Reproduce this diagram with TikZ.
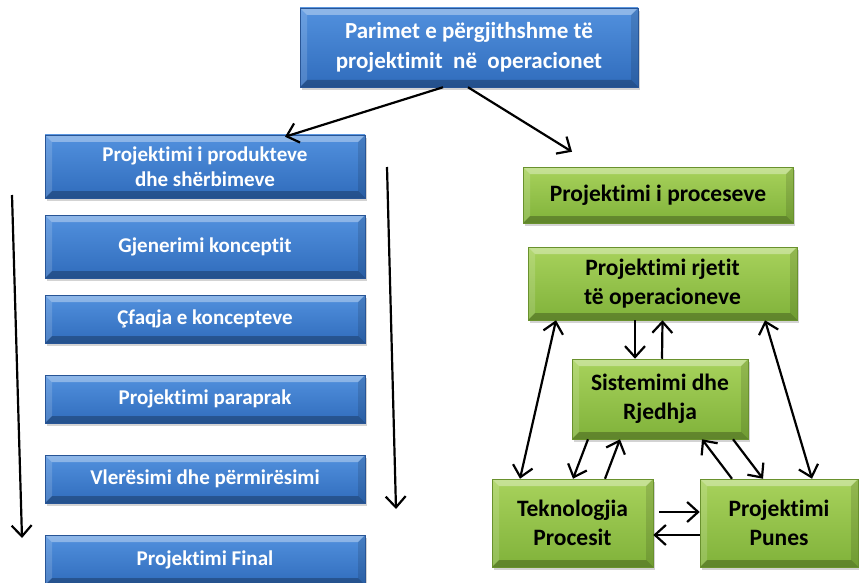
\documentclass[tikz,border=0pt]{standalone}
\usepackage{fontspec}
\setmainfont{Carlito}[Ligatures=NoCommon]
\usetikzlibrary{arrows.meta,shadows,calc}
\definecolor{btop}{RGB}{82,145,222}
\definecolor{bbot}{RGB}{48,108,188}
\definecolor{bbrd}{RGB}{40,85,150}
\definecolor{gtop}{RGB}{168,210,92}
\definecolor{gbot}{RGB}{128,178,58}
\definecolor{gbrd}{RGB}{105,145,45}
\tikzset{
  bevel/.style={path picture={
    \fill[white,opacity=0.35] (path picture bounding box.north west) -- (path picture bounding box.north east)
      -- ([xshift=-7pt,yshift=-7pt]path picture bounding box.north east) -- ([xshift=7pt,yshift=-7pt]path picture bounding box.north west) -- cycle;
    \fill[white,opacity=0.15] (path picture bounding box.north west) -- (path picture bounding box.south west)
      -- ([xshift=7pt,yshift=7pt]path picture bounding box.south west) -- ([xshift=7pt,yshift=-7pt]path picture bounding box.north west) -- cycle;
    \fill[black,opacity=0.25] (path picture bounding box.south west) -- (path picture bounding box.south east)
      -- ([xshift=-7pt,yshift=7pt]path picture bounding box.south east) -- ([xshift=7pt,yshift=7pt]path picture bounding box.south west) -- cycle;
    \fill[black,opacity=0.12] (path picture bounding box.north east) -- (path picture bounding box.south east)
      -- ([xshift=-7pt,yshift=7pt]path picture bounding box.south east) -- ([xshift=-7pt,yshift=-7pt]path picture bounding box.north east) -- cycle;
  }},
  bluebox/.style={draw=bbrd, line width=0.5pt, top color=btop, bottom color=bbot, bevel,
    text=white, font=\bfseries\fontsize{21}{25}\selectfont, align=center,
    inner sep=0pt, drop shadow={shadow xshift=2pt, shadow yshift=-3pt, opacity=0.35}},
  greenbox/.style={draw=gbrd, line width=0.5pt, top color=gtop, bottom color=gbot, bevel,
    text=black, font=\bfseries\fontsize{23.5}{29}\selectfont, align=center,
    inner sep=0pt, drop shadow={shadow xshift=2pt, shadow yshift=-3pt, opacity=0.35}},
  conn/.style={line width=2.2pt, -{Straight Barb[length=11pt,width=20pt]}},
  dconn/.style={line width=2.2pt, {Straight Barb[length=11pt,width=20pt]}-{Straight Barb[length=11pt,width=20pt]}},
}
\begin{document}
\begin{tikzpicture}[x=1pt,y=-1pt]
\useasboundingbox (0,0) rectangle (859,583);
% top
\node[bluebox, minimum width=338pt, minimum height=79pt, font=\bfseries\fontsize{23}{30}\selectfont] (top) at (469,47.5) {Parimet e përgjithshme të\\projektimit\ \ në\ \ operacionet};
% left column
\node[bluebox, minimum width=320pt, minimum height=63pt] (b1) at (205,166.5) {Projektimi i produkteve\\dhe shërbimeve};
\node[bluebox, minimum width=320pt, minimum height=63pt] (b2) at (205,246.5) {Gjenerimi konceptit};
\node[bluebox, minimum width=320pt, minimum height=48pt] (b3) at (205,319) {Çfaqja e koncepteve};
\node[bluebox, minimum width=320pt, minimum height=48pt] (b4) at (205,399) {Projektimi paraprak};
\node[bluebox, minimum width=320pt, minimum height=48pt] (b5) at (205,479) {Vlerësimi dhe përmirësimi};
\node[bluebox, minimum width=320pt, minimum height=50pt] (b6) at (205,560) {Projektimi Final};
% right column
\node[greenbox, minimum width=270pt, minimum height=56pt] (g1) at (658,195) {Projektimi i proceseve};
\node[greenbox, minimum width=269pt, minimum height=73pt] (g2) at (662.5,283.5) {Projektimi rjetit\\të operacioneve};
\node[greenbox, minimum width=176pt, minimum height=80pt] (g3) at (660,399) {Sistemimi dhe\\Rjedhja};
\node[greenbox, minimum width=161pt, minimum height=88pt] (g4) at (572.5,523) {Teknologjia\\Procesit};
\node[greenbox, minimum width=158pt, minimum height=88pt] (g5) at (779,523) {Projektimi\\Punes};
% free ends of the long arrows
\coordinate (l1) at (12,195);
\coordinate (l2) at (22,538);
\coordinate (r1) at (387,167);
\coordinate (r2) at (396,509);
% connectors
\draw[conn] ([xshift=-26pt]top.south) -- ([xshift=80pt,yshift=-2pt]b1.north);
\draw[conn] ([xshift=-1pt]top.south) -- ([xshift=-86pt,yshift=15pt]g1.north);
\draw[conn] (l1) -- (l2);
\draw[conn] (r1) -- (r2);
\draw[dconn] ([xshift=-106.5pt]g2.south) -- ([xshift=-52.5pt]g4.north);
\draw[dconn] ([xshift=102.5pt]g2.south) -- ([xshift=33pt]g5.north);
\draw[conn] ([xshift=-27.5pt]g2.south) -- ([xshift=-25pt]g3.north);
\draw[conn] ([xshift=2pt]g3.north) -- (g2.south);
\draw[conn] ([xshift=-72pt]g3.south) -- ([xshift=0.5pt]g4.north);
\draw[conn] ([xshift=32.5pt]g4.north) -- ([xshift=-40pt]g3.south);
\draw[conn] ([xshift=-47pt]g5.north) -- ([xshift=42pt]g3.south);
\draw[conn] ([xshift=73pt]g3.south) -- ([xshift=-16pt]g5.north);
\draw[conn] ([xshift=6pt,yshift=11pt]g4.east) -- ([yshift=11pt]g5.west);
\draw[conn] ([yshift=-12pt]g5.west) -- ([yshift=-12pt]g4.east);
\end{tikzpicture}
\end{document}
